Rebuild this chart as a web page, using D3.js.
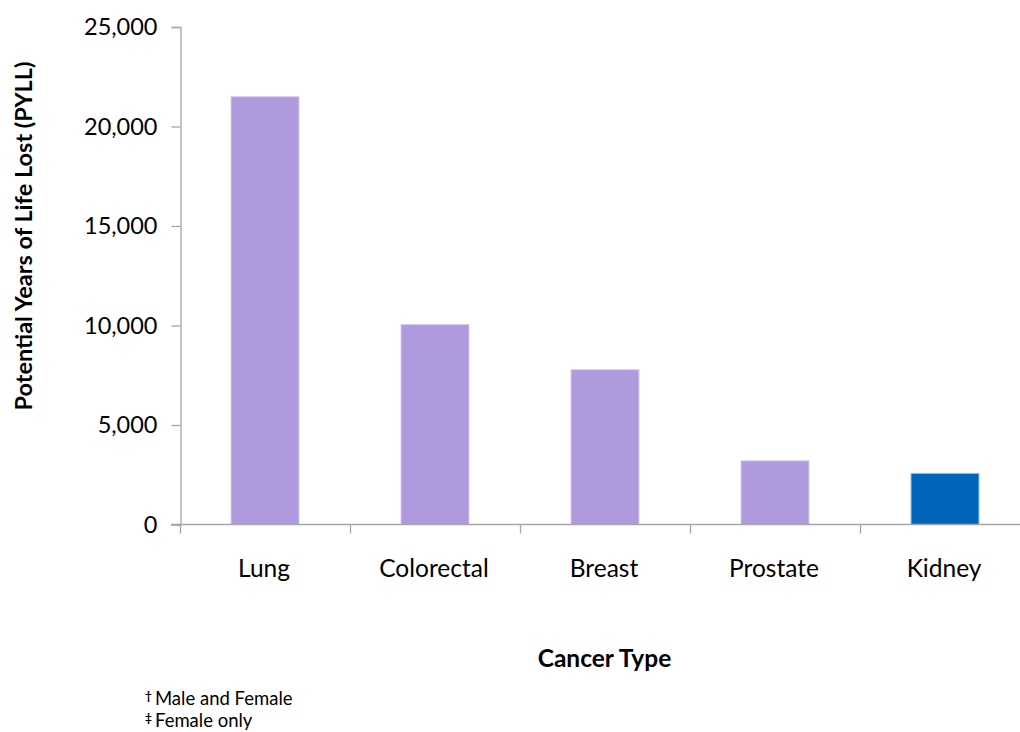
<!DOCTYPE html>
<html>
<head>
<meta charset="utf-8">
<script src="https://cdn.jsdelivr.net/npm/d3@7"></script>
<style>
  html, body { margin: 0; padding: 0; background: #fff; }
  svg { display: block; font-family: Lato, "Open Sans", sans-serif; }
</style>
</head>
<body>
<svg id="chart" width="1020" height="732"></svg>
<script>
const categories = ["Lung", "Colorectal", "Breast", "Prostate", "Kidney"];
const pyll = [21500, 10050, 7780, 3200, 2570];
const barFill = ["#AE9ADC", "#AE9ADC", "#AE9ADC", "#AE9ADC", "#0066BC"];
const barEdge = ["#D8CEF0", "#D8CEF0", "#D8CEF0", "#D8CEF0", "#9CC2E8"];
const yTicks = [0, 5000, 10000, 15000, 20000, 25000];
const yTitle = "Potential Years of Life Lost (PYLL)";
const xTitle = "Cancer Type";
const footnotes = [["\u2020", "Male and Female"], ["\u2021", "Female only"]];

const svg = d3.select("#chart");
const axisColor = "#A6A6A6";

const x = d3.scaleBand().domain(categories).range([180, 1030]).paddingInner(0.6).paddingOuter(0.3);
const xb = d3.scaleBand().domain(categories).range([180, 1030]).padding(0);
const y = d3.scaleLinear().domain([0, 25000]).range([524.5, 27]);

// bars
svg.append("g").selectAll("rect").data(categories).join("rect")
  .attr("x", d => x(d))
  .attr("y", (d, i) => y(pyll[i]))
  .attr("width", x.bandwidth())
  .attr("height", (d, i) => y(0) - y(pyll[i]))
  .attr("fill", (d, i) => barFill[i])
  .attr("stroke", (d, i) => barEdge[i])
  .attr("stroke-width", 1);

// y axis
const yAxis = d3.axisLeft(y).tickValues(yTicks).tickSize(9).tickPadding(14)
  .tickFormat(d3.format(","));
const gy = svg.append("g").attr("transform", "translate(180.5,0)").call(yAxis);
gy.select(".domain").attr("stroke", axisColor).attr("stroke-width", 1.3);
gy.selectAll(".tick line").attr("stroke", axisColor).attr("stroke-width", 1.3);
gy.selectAll(".tick text").attr("font-size", 23.5).attr("fill", "#000")
  .attr("font-family", "Lato, sans-serif");

// x axis
const gx = svg.append("g").attr("transform", "translate(0," + y(0) + ")");
gx.append("line").attr("x1", 171).attr("x2", 1030).attr("y1", 0).attr("y2", 0)
  .attr("stroke", axisColor).attr("stroke-width", 1.5);
const bounds = categories.map(d => xb(d)).concat([xb.range()[1]]);
gx.selectAll("line.tk").data(bounds).join("line").attr("class", "tk")
  .attr("x1", d => d + 0.5).attr("x2", d => d + 0.5).attr("y1", 0).attr("y2", 9)
  .attr("stroke", axisColor).attr("stroke-width", 1.3);
gx.selectAll("text").data(categories).join("text")
  .attr("x", d => xb(d) + xb.bandwidth() / 2 - 1)
  .attr("y", 52)
  .attr("text-anchor", "middle")
  .attr("font-size", 24.5)
  .attr("fill", "#000")
  .text(d => d);

// titles
svg.append("text")
  .attr("transform", "translate(32,236) rotate(-90)")
  .attr("text-anchor", "middle")
  .attr("font-weight", "bold")
  .attr("font-size", 23.5)
  .text(yTitle);
svg.append("text")
  .attr("x", 604.5).attr("y", 667)
  .attr("text-anchor", "middle")
  .attr("font-weight", "bold")
  .attr("font-size", 24.5)
  .text(xTitle);

// footnotes
const fn = svg.append("g");
footnotes.forEach((f, i) => {
  const t = fn.append("text").attr("x", 145).attr("y", 705 + i * 22).attr("font-size", 18.5).attr("fill", "#000");
  t.append("tspan").attr("font-size", 12).attr("font-weight", "bold").attr("dy", -5).text(f[0]);
  t.append("tspan").attr("dy", 5).attr("dx", 3).text(f[1]);
});
</script>
</body>
</html>
